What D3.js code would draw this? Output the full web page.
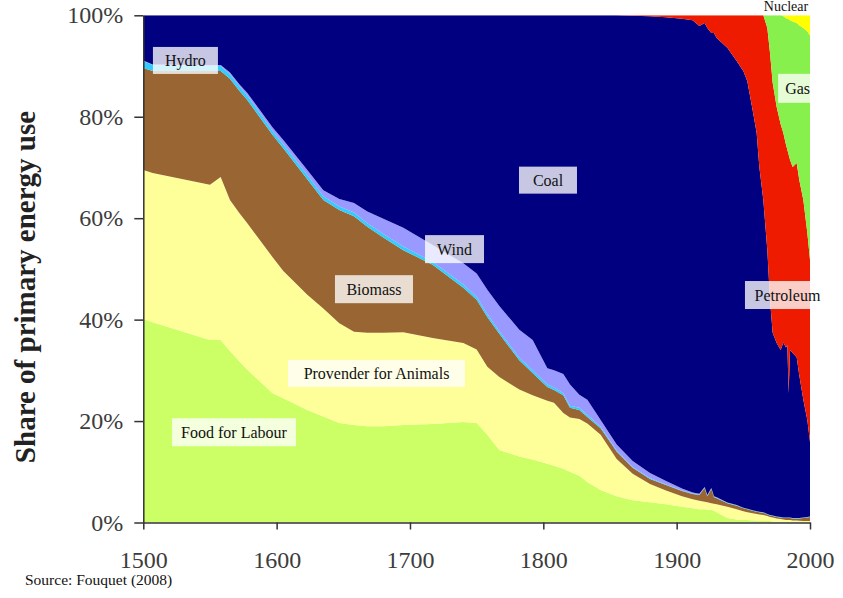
<!DOCTYPE html>
<html><head><meta charset="utf-8">
<script src="https://cdn.jsdelivr.net/npm/d3@7"></script>
<style>
body{margin:0;background:#fff}
svg{display:block}
text{font-family:"Liberation Serif","Times New Roman",serif}
</style>
</head><body>
<svg id="c" width="843" height="598"></svg>
<script>
// ---------- data (shares in %) ----------
const years = [1500,1507,1550,1558,1565,1572,1578,1597,1605,1623,
  1635,1647,1658,1668,1680,1695,1717,1740,1750,1758,
  1767,1782,1792,1803,1808,1815,1820,1827,1833,1843,
  1855,1867,1880,1892,1904,1912,1917,1921,1923,1926,
  1928,1930,1938,1945,1950,1953,1957,1960,1962,1965,
  1968,1970,1972,1975,1978,1980,1982,1983,1984,1985,
  1987,1990,1992,1995,1998,2000];

const food = [40.1,39.5,36.0,36.0,33.8,31.8,30.1,25.5,24.5,22.2,
  20.9,19.6,19.2,19.0,19.0,19.2,19.4,19.8,19.6,17.3,
  14.3,13.0,12.4,11.6,11.2,10.6,10.0,9.2,8.0,6.4,
  5.2,4.4,4.0,3.6,3.1,2.8,2.6,2.6,2.5,2.5,
  2.3,2.0,0.9,0.6,0.5,0.5,0.4,0.4,0.3,0.3,
  0.3,0.3,0.2,0.2,0.2,0.2,0.1,0.1,0.1,0.1,
  0.1,0.1,0.1,0,0,0];

const provender = [29.4,29.4,30.6,32.1,29.8,29.2,28.9,26.8,25.1,22.7,
  21.3,19.7,18.4,18.4,18.4,18.3,17.0,15.6,14.5,13.4,
  14.4,13.2,12.7,12.4,12.4,11.0,10.7,11.2,11.5,10.9,
  7.3,5.2,3.6,2.7,2.1,1.8,1.7,1.5,1.5,1.3,
  1.4,1.6,2.2,2.0,1.7,1.5,1.4,1.3,1.3,1.2,
  1.0,0.8,0.8,0.6,0.5,0.4,0.4,0.4,0.4,0.4,
  0.3,0.3,0.25,0.3,0.3,0.3];

const biomass = [20.1,20.1,22.4,20.9,23.9,24.1,24.3,24.1,24.2,22.8,
  21.4,22.3,22.8,20.9,18.8,16.2,14.4,10.9,9.8,9.8,
  8.5,5.8,4.4,2.7,2.5,3.5,1.9,1.8,1.3,1.3,
  1.5,1.2,1.0,1.1,1.0,1.0,1.1,2.7,1.2,2.8,
  1.3,1.2,0.7,0.7,0.6,0.6,0.5,0.4,0.4,0.4,
  0.3,0.3,0.3,0.3,0.3,0.3,0.4,0.4,0.4,0.4,
  0.4,0.4,0.45,0.6,0.7,0.8];

const hydro = [1.4,1.2,1.0,1.0,0.9,0.9,0.9,0.8,0.8,0.8,
  0.7,0.7,0.7,0.7,0.7,0.7,0.6,0.6,0.6,0.6,
  0.5,0.5,0.5,0.5,0.5,0.4,0.4,0.4,0.4,0.3,
  0.2,0.15,0.15,0.1,0.1,0.1,0.1,0.1,0.1,0.1,
  0.1,0.1,0.1,0.1,0.1,0.1,0.1,0.1,0.1,0.1,
  0.1,0.1,0.1,0.1,0.1,0.1,0.1,0.1,0.1,0.1,
  0.1,0.1,0.1,0.1,0.1,0.1];

const wind = [0.1,0.1,0.15,0.2,0.3,0.4,0.5,0.7,0.8,1.0,
  1.2,1.5,1.9,2.3,3.0,3.7,3.3,4.2,4.6,4.8,
  5.0,5.5,6.0,3.2,3.4,3.8,4.2,2.6,3.0,1.3,
  1.2,1.2,1.0,0.7,0.4,0.2,0.15,0.1,0.1,0.1,
  0.1,0.08,0.05,0.05,0.03,0.03,0.02,0,0,0,
  0,0,0,0,0,0,0,0,0,0,
  0,0,0,0,0,0];

const coal = [8.9,9.7,9.85,9.8,11.3,13.6,15.3,22.1,24.6,30.5,
  34.5,36.2,37.0,38.7,40.1,41.9,45.3,48.9,50.9,54.1,
  57.3,62.0,64.0,69.6,70.0,70.7,72.8,74.8,75.8,79.8,
  84.6,87.75,90.05,91.4,92.6,93.1,92.25,91.5,92.1,89.7,
  91.3,90.52,89.65,87.55,86.07,84.27,78.88,74.6,68.0,61.6,
  52.0,42.4,36.0,34.2,32.9,34.5,33.5,34.0,24.5,33.0,
  32.5,31.7,28.1,23.2,19.1,14.7];

const petroleum = [0,0,0,0,0,0,0,0,0,0,
  0,0,0,0,0,0,0,0,0,0,
  0,0,0,0,0,0,0,0,0,0,
  0,0.1,0.2,0.4,0.7,1.0,2.1,1.5,2.5,3.5,
  3.5,4.5,6.4,9.0,11.0,13.0,18.7,23.2,29.9,36.4,
  43.8,48.7,49.3,46.5,44.5,41.3,40.0,38.5,47.0,37.5,
  36.7,38.3,38.5,39.4,36.9,35.9];

const gas = [0,0,0,0,0,0,0,0,0,0,
  0,0,0,0,0,0,0,0,0,0,
  0,0,0,0,0,0,0,0,0,0,
  0,0,0,0,0,0,0,0,0,0,
  0,0,0,0,0,0,0,0,0,0,
  2.5,7.4,13.3,18.1,21.5,23.0,24.9,25.8,26.7,27.5,
  28.7,27.6,30.5,33.9,39.7,44.2];

const nuclear = [0,0,0,0,0,0,0,0,0,0,
  0,0,0,0,0,0,0,0,0,0,
  0,0,0,0,0,0,0,0,0,0,
  0,0,0,0,0,0,0,0,0,0,
  0,0,0,0,0,0,0,0,0,0,
  0,0,0,0,0,0.2,0.6,0.7,0.8,1.0,
  1.2,1.5,2.0,2.5,3.2,4.0];

const keys = ["food","provender","biomass","hydro","wind","coal","petroleum","gas","nuclear"];
const yTicks = [0,0.2,0.4,0.6,0.8,1];
const xTicks = [1500,1600,1700,1800,1900,2000];

// ---------- build table ----------
const cols = {food,provender,biomass,hydro,wind,coal,petroleum,gas,nuclear};
const table = years.map((yr,i)=>{
  const o = {year:yr};
  keys.forEach(k=>o[k]=cols[k][i]);
  return o;
});

const colors = {
  food:"#ccff66", provender:"#ffff99", biomass:"#996633", hydro:"#33ccff",
  wind:"#9999ff", coal:"#000080", petroleum:"#ee1b00", gas:"#88f04c", nuclear:"#ffff00"
};

// labels placed in data coordinates (year, share)
const annotations = [
  {text:"Hydro", year:1531.6, share:0.911, w:65, h:27},
  {text:"Coal", year:1803.5, share:0.675, w:58, h:27},
  {text:"Wind", year:1733.4, share:0.539, w:59, h:28},
  {text:"Biomass", year:1673.0, share:0.460, w:78, h:28},
  {text:"Provender for Animals", year:1674.9, share:0.294, w:177, h:27},
  {text:"Food for Labour", year:1568.0, share:0.178, w:124, h:28},
  {text:"Gas", year:1990.7, share:0.856, w:39, h:29},
  {text:"Petroleum", year:1983.1, share:0.4485, w:85, h:28}
];

// ---------- drawing ----------
const svg = d3.select("#c");
const x = d3.scaleLinear().domain([1500,2000]).range([143.3,810]);
const y = d3.scaleLinear().domain([0,1]).range([522.5,15.3]);

svg.append("defs").append("clipPath").attr("id","plot")
  .append("rect").attr("x",x(1500)).attr("y",y(1))
  .attr("width",x(2000)-x(1500)+0.5).attr("height",y(0)-y(1));

const stack = d3.stack().keys(keys).offset(d3.stackOffsetExpand);
const series = stack(table);
const area = d3.area()
  .x(d=>x(d.data.year))
  .y0(d=>y(d[0]))
  .y1(d=>y(d[1]));

const g = svg.append("g").attr("clip-path","url(#plot)");
g.selectAll("path").data(series).join("path")
  .attr("fill",d=>colors[d.key])
  .attr("d",area);

// labels
const lab = svg.append("g");
const boxes = lab.append("g").attr("clip-path","url(#plot)");
annotations.forEach(a=>{
  const cx = x(a.year), cy = y(a.share);
  boxes.append("rect").attr("x",cx-a.w/2).attr("y",cy-a.h/2)
    .attr("width",a.w).attr("height",a.h)
    .attr("fill","#fff").attr("fill-opacity",0.78);
  lab.append("text").attr("x",cx).attr("y",cy).attr("dy","0.35em")
    .attr("text-anchor","middle").attr("font-size",16).attr("fill","#111")
    .text(a.text);
});
lab.append("text").attr("x",x(1982)).attr("y",11).attr("text-anchor","middle")
  .attr("font-size",14).attr("fill","#111").text("Nuclear");

// axes
const yAxis = d3.axisLeft(y).tickValues(yTicks).tickFormat(d3.format(".0%"))
  .tickSize(9).tickSizeOuter(0).tickPadding(11);
const xAxis = d3.axisBottom(x).tickValues(xTicks).tickFormat(d3.format("d"))
  .tickSize(7).tickSizeOuter(0).tickPadding(21);

const ya = svg.append("g").attr("transform",`translate(${x(1500)},0)`).call(yAxis);
const xa = svg.append("g").attr("transform",`translate(0,${y(0)})`).call(xAxis);
[ya,xa].forEach(a=>{
  a.attr("font-family",null).attr("font-size",null);
  a.selectAll("path,line").attr("stroke","#333").attr("stroke-width",1.5);
  a.selectAll("text").attr("font-size",24).attr("fill","#3c3c3c")
    .style("font-family","'Liberation Serif','Times New Roman',serif");
});

// y title
svg.append("text").attr("transform","translate(35,287) rotate(-90)")
  .attr("text-anchor","middle").attr("font-size",29).attr("font-weight","bold")
  .attr("fill","#222").text("Share of primary energy use");

// source
svg.append("text").attr("x",25).attr("y",585).attr("font-size",15.5)
  .attr("fill","#111").text("Source: Fouquet (2008)");
</script>
</body></html>
